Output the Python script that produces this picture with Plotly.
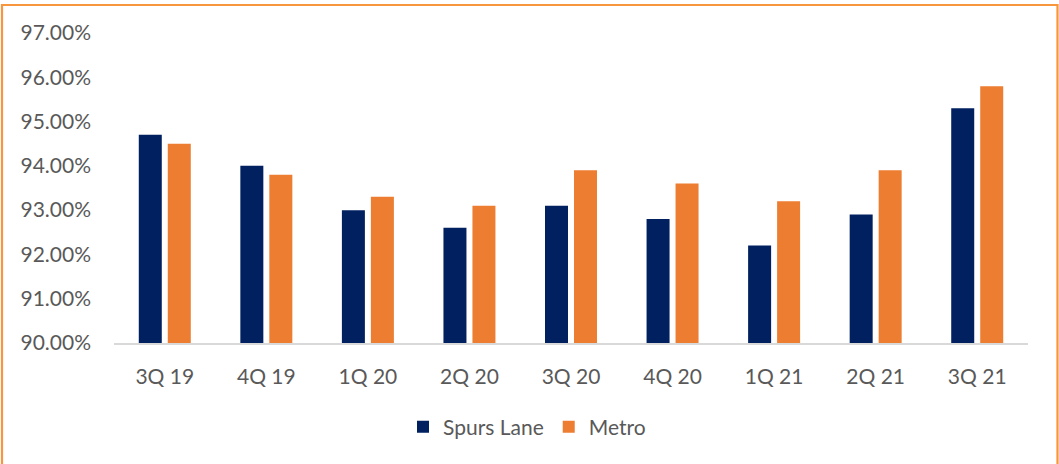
import plotly.graph_objects as go

# Quarterly occupancy (%)
quarters = ["3Q 19", "4Q 19", "1Q 20", "2Q 20", "3Q 20", "4Q 20", "1Q 21", "2Q 21", "3Q 21"]
spurs_lane = [94.7, 94.0, 93.0, 92.6, 93.1, 92.8, 92.2, 92.9, 95.3]
metro = [94.5, 93.8, 93.3, 93.1, 93.9, 93.6, 93.2, 93.9, 95.8]
y_ticks = [90, 91, 92, 93, 94, 95, 96, 97]
y_tick_labels = [f"{v:.2f}%" for v in y_ticks]

W, H = 1059, 464
ML, MR, MT, MB = 114, 31, 33, 121
PW, PH = W - ML - MR, H - MT - MB

FONT = "Lato, 'Open Sans', sans-serif"
GREY = "#595959"
BAR_W = 0.2265
GAP = 0.059

fig = go.Figure()
fig.add_trace(go.Bar(
    x=quarters, y=spurs_lane, name="Spurs Lane",
    marker=dict(color="#002060", line=dict(width=0)),
    width=BAR_W, offset=-(BAR_W + GAP / 2),
))
fig.add_trace(go.Bar(
    x=quarters, y=metro, name="Metro",
    marker=dict(color="#ED7D31", line=dict(width=0)),
    width=BAR_W, offset=GAP / 2,
))


def px_x(p):
    return (p - ML) / PW


def px_y(p):
    return (H - MB - p) / PH


# outer chart border
fig.add_shape(
    type="rect", xref="paper", yref="paper",
    x0=px_x(2), x1=px_x(1057.5), y0=px_y(470), y1=px_y(5),
    line=dict(color="#F7963C", width=2.2), fillcolor="rgba(0,0,0,0)",
    layer="above",
)

fig.update_layout(
    width=W, height=H,
    margin=dict(l=ML, r=MR, t=MT, b=MB, pad=0),
    paper_bgcolor="white", plot_bgcolor="white",
    barmode="group",
    font=dict(family=FONT, size=21, color=GREY),
    showlegend=True,
    legend=dict(
        orientation="h", x=px_x(527), xanchor="center",
        y=px_y(427), yanchor="middle",
        font=dict(family=FONT, size=21, color=GREY),
        itemwidth=30, traceorder="normal",
    ),
    xaxis=dict(
        type="category", showgrid=False, zeroline=False,
        showline=True, linecolor="#D9D9D9", linewidth=1.5,
        ticks="", ticklabelstandoff=14,
        tickfont=dict(family=FONT, size=21, color=GREY),
    ),
    yaxis=dict(
        range=[90, 97], tickvals=y_ticks, ticktext=y_tick_labels,
        showgrid=False, zeroline=False, showline=False,
        ticks="", ticklabelstandoff=22,
        tickfont=dict(family=FONT, size=21, color=GREY),
    ),
)

fig.write_html("out.html")
